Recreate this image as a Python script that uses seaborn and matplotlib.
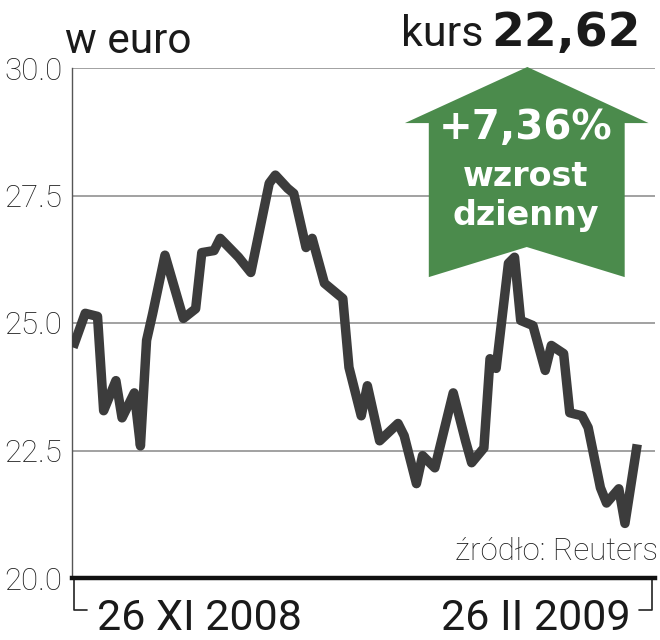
import pandas as pd
import matplotlib.pyplot as plt
import seaborn as sns
from matplotlib.patches import Polygon

# --- dane: dni od 26 XI 2008, kurs w euro ---
dni = [0, 2, 4, 5, 7, 8, 10, 11, 12, 13, 15, 18, 20, 21, 23, 24, 27, 29, 32, 33,
       35, 36, 38, 39, 41, 44, 45, 47, 48, 50, 53, 54, 56, 57, 59, 62, 64, 65, 67, 68,
       69, 71, 72, 73, 75, 77, 78, 80, 81, 83, 84, 86, 87, 89, 90, 92]
kurs = [24.52, 25.19, 25.13, 23.28, 23.87, 23.14, 23.63, 22.59, 24.66, 25.19,
        26.33, 25.09, 25.28, 26.38, 26.42, 26.66, 26.29, 25.99, 27.74, 27.90,
        27.64, 27.54, 26.48, 26.66, 25.78, 25.48, 24.13, 23.18, 23.77, 22.69,
        23.03, 22.79, 21.85, 22.40, 22.16, 23.63, 22.69, 22.26, 22.55, 24.30,
        24.11, 26.17, 26.29, 25.05, 24.95, 24.07, 24.56, 24.40, 23.24, 23.18,
        22.95, 21.77, 21.47, 21.75, 21.07, 22.62]
y_ticks = [20.0, 22.5, 25.0, 27.5, 30.0]
daty = ["26 XI 2008", "26 II 2009"]
zmiana = "+7,36%"

df = pd.DataFrame({"dzien": dni, "kurs": kurs})

sns.set_style("white")
plt.rcParams['font.family'] = ['Roboto', 'Liberation Sans', 'DejaVu Sans']

fig = plt.figure(figsize=(6.6, 6.4), dpi=100)
ax = fig.add_axes([72 / 660, 1 - 578 / 640, 583 / 660, 510 / 640])

GREEN = "#4b8b4c"

# strzałka
arrow = Polygon([(0.781, 1.002), (0.571, 0.892), (0.612, 0.892), (0.612, 0.590),
                 (0.780, 0.649), (0.948, 0.590), (0.948, 0.892), (0.989, 0.892)],
                closed=True, transform=ax.transAxes, facecolor=GREEN,
                edgecolor="none", zorder=3, clip_on=False)
ax.add_patch(arrow)

sns.lineplot(data=df, x="dzien", y="kurs", ax=ax, color="#3c3c3c",
             linewidth=6.8, zorder=4)
for l in ax.lines:
    l.set_solid_joinstyle("round")
    l.set_solid_capstyle("butt")

ax.set_xlim(-0.16, 94.9)
ax.set_ylim(20, 30)
ax.set_yticks(y_ticks)
ax.set_yticklabels([f"{v:.1f}" for v in y_ticks], fontsize=22.5,
                   fontweight="light", color="#1e1e1e")
ax.set_xticks([])
ax.set_xlabel("")
ax.set_ylabel("")
ax.tick_params(axis="y", length=0, pad=7)
ax.grid(axis="y", color="#9a9a9a", linewidth=1.3)
ax.set_axisbelow(True)

for s in ["top", "right"]:
    ax.spines[s].set_visible(False)
ax.spines["left"].set_color("#555555")
ax.spines["left"].set_linewidth(1.0)
ax.spines["bottom"].set_color("#111111")
ax.spines["bottom"].set_linewidth(3.2)
ax.spines["bottom"].set_zorder(5)

# nawiasy dat
ax.plot([0.003, 0.003, 0.026], [-0.004, -0.063, -0.063], transform=ax.transAxes,
        color="#222222", linewidth=1.2, clip_on=False)
ax.plot([0.994, 0.994, 0.972], [-0.004, -0.063, -0.063], transform=ax.transAxes,
        color="#222222", linewidth=1.2, clip_on=False)

# napisy
fig.text(65 / 660, 1 - 53 / 640, "w euro", fontsize=30.5, color="#1a1a1a",
         ha="left", va="baseline")
fig.text(483 / 660, 1 - 46 / 640, "kurs", fontsize=31, color="#1a1a1a",
         ha="right", va="baseline")
fig.text(641 / 660, 1 - 46 / 640, "22,62", fontsize=34, fontweight="heavy",
         family="DejaVu Sans", color="#1a1a1a", ha="right", va="baseline")

fig.text(526 / 660, 1 - 139 / 640, zmiana, fontsize=29, fontweight="bold",
         family="DejaVu Sans", color="white", ha="center", va="baseline", zorder=6)
fig.text(526 / 660, 1 - 186 / 640, "wzrost", fontsize=24, fontweight="bold",
         family="DejaVu Sans", color="white", ha="center", va="baseline", zorder=6)
fig.text(526 / 660, 1 - 225 / 640, "dzienny", fontsize=24, fontweight="bold",
         family="DejaVu Sans", color="white", ha="center", va="baseline", zorder=6)

fig.text(658 / 660, 1 - 560 / 640, "źródło: Reuters", fontsize=22.5,
         fontweight="light", color="#1e1e1e", ha="right", va="baseline")

fig.text(97 / 660, 1 - 630 / 640, daty[0], fontsize=31, color="#1a1a1a",
         ha="left", va="baseline")
fig.text(631 / 660, 1 - 630 / 640, daty[1], fontsize=31, color="#1a1a1a",
         ha="right", va="baseline")

fig.savefig("out.png", dpi=100)
